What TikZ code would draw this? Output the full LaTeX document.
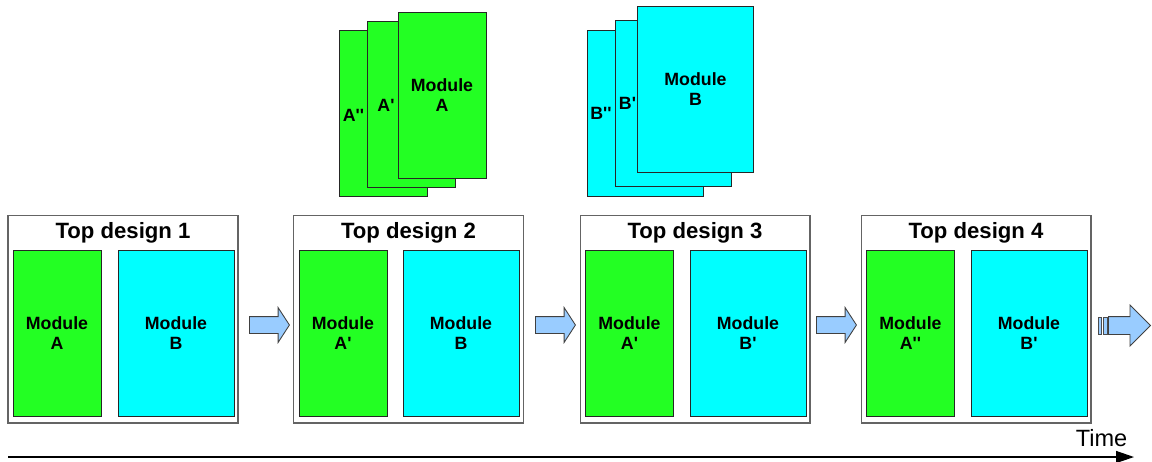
\documentclass[tikz,border=0pt]{standalone}
\usepackage{fontspec}
\setmainfont{Liberation Sans}[Ligatures=TeXOff]
\usepackage{tikz}
\usetikzlibrary{arrows.meta,shapes.arrows}
\definecolor{clrGn}{RGB}{35,255,35}
\definecolor{clrCy}{RGB}{0,255,255}
\definecolor{clrAr}{RGB}{153,204,255}
\definecolor{clrFr}{RGB}{100,100,100}
\tikzset{
  design/.style={rectangle,draw=clrFr,fill=white,line width=0.6pt,
    minimum width=4.6cm,minimum height=4.16cm,inner sep=0pt},
  headline/.style={font=\bfseries\fontsize{12.6}{14}\selectfont},
  modA/.style={rectangle,draw=black!85,fill=clrGn,line width=0.5pt,
    minimum width=1.76cm,minimum height=3.32cm,inner sep=0pt,align=center,
    font=\bfseries\fontsize{10.1}{11.4}\selectfont},
  modB/.style={modA,fill=clrCy,minimum width=2.32cm},
  cardlab/.style={font=\bfseries\fontsize{10.1}{11.4}\selectfont},
  blockarrow/.style={single arrow,draw=black!75,fill=clrAr,line width=0.5pt,
    minimum height=0.8cm,inner xsep=0pt,inner ysep=0.16cm,
    single arrow head extend=0.18cm,single arrow tip angle=114,anchor=tail},
  stripe/.style={rectangle,draw=black!70,fill=clrAr,line width=0.5pt,
    minimum height=0.34cm,inner sep=0pt},
  timeline/.style={-{Triangle[length=0.36cm,width=0.24cm]},line width=0.8pt}
}

\begin{document}
\begin{tikzpicture}[x=0.02cm,y=-0.02cm]
  \useasboundingbox (0,0) rectangle (1152,461);

  % stacked versions of module A
  \node[modA] (cardA2) at (383.5,113) {};
  \node[modA] (cardA1) at (411,104) {};
  \node[modA] (cardA0) at (442,95) {Module\\A};
  \node[cardlab] (labA2) at (353.5,115) {A''};
  \node[cardlab] (labA1) at (386,105) {A'};

  % stacked versions of module B
  \node[modB] (cardB2) at (645,113) {};
  \node[modB] (cardB1) at (673,103) {};
  \node[modB] (cardB0) at (695.5,89) {Module\\B};
  \node[cardlab] (labB2) at (601,113) {B''};
  \node[cardlab] (labB1) at (627.5,103) {B'};

  % top designs
  \node[design] (top1) at (123,319) {};
  \node[headline] at (123,233) {Top design 1};
  \node[modA] (a1) at (57,333) {Module\\A};
  \node[modB] (b1) at (176,333) {Module\\B};

  \node[design] (top2) at (408.5,319) {};
  \node[headline] at (408.5,233) {Top design 2};
  \node[modA] (a2) at (343,333) {Module\\A'};
  \node[modB] (b2) at (461,333) {Module\\B};

  \node[design] (top3) at (695,319) {};
  \node[headline] at (695,233) {Top design 3};
  \node[modA] (a3) at (629.5,333) {Module\\A'};
  \node[modB] (b3) at (748,333) {Module\\B'};

  \node[design] (top4) at (976,319) {};
  \node[headline] at (976,233) {Top design 4};
  \node[modA] (a4) at (910.5,333) {Module\\A''};
  \node[modB] (b4) at (1029,333) {Module\\B'};

  % steps between designs
  \node[blockarrow] (go1) at (249,325) {};
  \node[blockarrow] (go2) at (535,325) {};
  \node[blockarrow] (go3) at (816,325) {};
  \node[stripe,minimum width=0.06cm] (dash1) at (1099.5,325.5) {};
  \node[stripe,minimum width=0.08cm] (dash2) at (1105,325.5) {};
  \node[blockarrow,minimum height=0.84cm,inner ysep=0.17cm,
    single arrow head extend=0.23cm,single arrow tip angle=90]
    (go4) at (1108,325.5) {};

  % time axis
  \coordinate (t0) at (8,457);
  \coordinate (t1) at (1134,457);
  \draw[timeline] (t0) -- (t1);
  \node[font=\fontsize{13.4}{16}\selectfont] (time) at (1101.5,438.5) {Time};
\end{tikzpicture}
\end{document}
